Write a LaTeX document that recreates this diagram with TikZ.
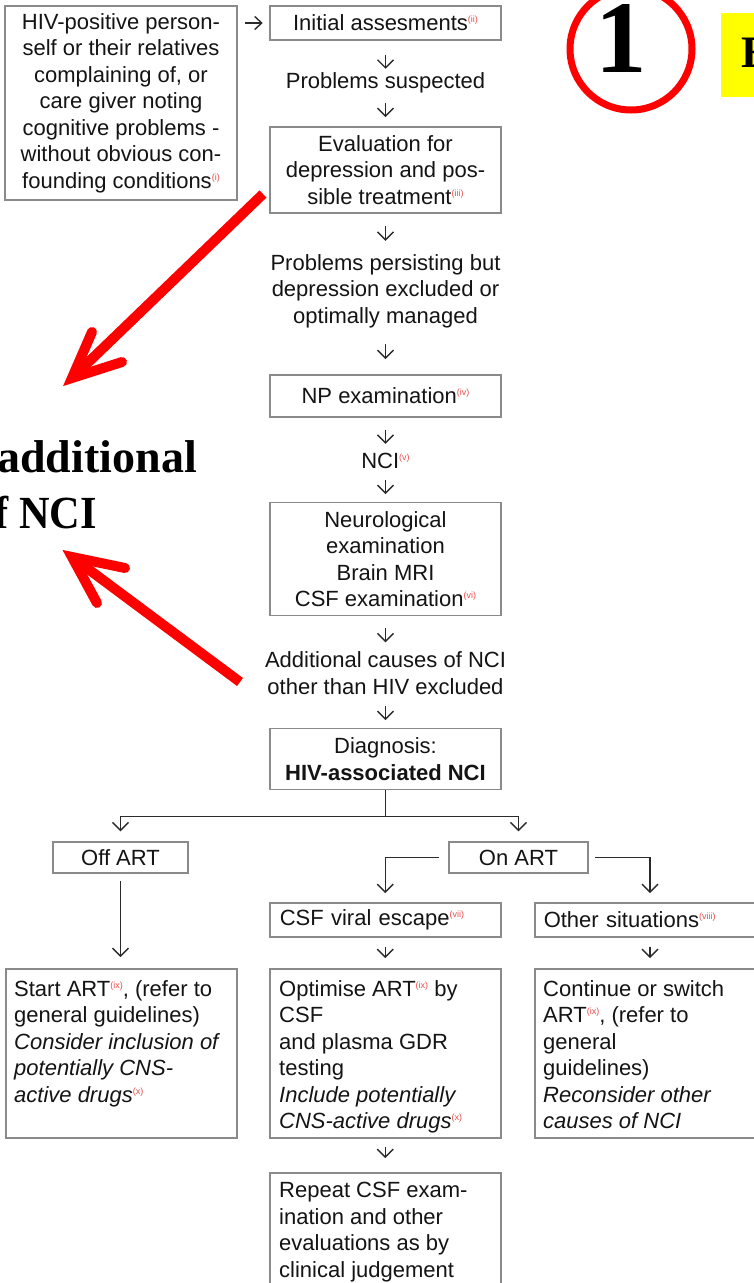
\documentclass[tikz,border=0pt]{standalone}
\usepackage{fontspec}
\setmainfont{Liberation Sans}
\newfontfamily\titleserif{Liberation Serif}
\usetikzlibrary{arrows.meta,calc}
\definecolor{boxgray}{HTML}{8A8A8A}
\definecolor{supred}{HTML}{EE4A4A}
\definecolor{txt}{HTML}{141414}
\definecolor{conn}{HTML}{2A2A2A}
\definecolor{hlyellow}{HTML}{FFFF00}
\newcommand{\fnref}[1]{\raisebox{8pt}{\fontsize{9}{9}\selectfont\color{supred}(#1)}}
\newcommand{\bodyfont}{\fontsize{22}{26.5}\selectfont}
\begin{document}
\begin{tikzpicture}[x=1pt,y=-1pt,
  frame/.style={draw=boxgray, line width=1.5pt, fill=white, inner sep=0pt},
  cbox/.style={frame, font=\bodyfont, text=txt, align=center},
  plain/.style={font=\bodyfont, text=txt, align=center, inner sep=0pt},
  ltext/.style={font=\bodyfont, text=txt, align=left, inner sep=0pt, anchor=north west},
  lbox/.style={frame, anchor=north west, font=\bodyfont, text=txt, align=left, inner xsep=10pt},
  darr/.style={draw=conn, line width=1.4pt, -{Straight Barb[length=8pt,width=16pt]}},
  link/.style={draw=conn, line width=1.4pt},
  redarrow/.style={draw=red, line width=10pt},
]
\fill[white] (0,0) rectangle (754,1283);
\useasboundingbox (0,0) rectangle (754,1283);

% annotations
\draw[red, line width=7pt] (631,49) ellipse [x radius=61, y radius=61];
\node[anchor=base, font=\titleserif\bfseries\fontsize{103}{103}\selectfont, inner sep=0pt] (one) at (621,72) {1};
\fill[hlyellow] (721,13) rectangle (770,97);
\node[anchor=base west, font=\titleserif\bfseries\fontsize{45}{50}\selectfont, inner sep=0pt] (ttl) at (741,67) {E};
\node[anchor=base east, font=\titleserif\bfseries\fontsize{46}{50}\selectfont, inner sep=0pt] (lt1) at (197,472) {additional};
\node[anchor=base east, font=\titleserif\bfseries\fontsize{46}{50}\selectfont, inner sep=0pt] (lt2) at (97,528) {\scalebox{0.92}[1]{of NCI}};

% main column
\node[cbox, minimum width=232, minimum height=194] (A) at (121,103) {HIV-positive person-\\self or their relatives\\complaining of, or\\care giver noting\\cognitive problems -\\without obvious con-\\founding conditions\fnref{i}};
\node[cbox, minimum width=231, minimum height=34] (B) at (385.5,23) {Initial assesments\fnref{ii}};
\node[plain] (ps) at (385.5,83) {Problems suspected};
\node[cbox, minimum width=231, minimum height=86] (C) at (385.5,170) {Evaluation for\\depression and pos-\\sible treatment\fnref{iii}};
\node[plain] (persist) at (385.5,291) {Problems persisting but\\depression excluded or\\optimally managed};
\node[cbox, minimum width=231, minimum height=42] (D) at (385.5,396) {NP examination\fnref{iv}};
\node[plain] (nci) at (385.5,461) {NCI\fnref{v}};
\node[cbox, minimum width=231, minimum height=113] (E) at (385.5,559) {Neurological\\examination\\Brain MRI\\CSF examination\fnref{vi}};
\node[plain] (addl) at (385.5,673) {Additional causes of NCI\\other than HIV excluded};
\node[cbox, minimum width=231, minimum height=61] (F) at (385.5,759) {Diagnosis:\\\textbf{HIV-associated NCI}};

\node[cbox, minimum width=135, minimum height=31] (off) at (120.5,857.5) {Off ART};
\node[cbox, minimum width=139, minimum height=31] (on) at (518.5,857.5) {On ART};
\node[lbox, text width=211, minimum height=34] (csf) at (269,902) {CSF viral escape\fnref{vii}};
\node[lbox, text width=282, minimum height=34, inner xsep=9pt] (oth) at (534,902) {Other situations\fnref{viii}};

\node[frame, anchor=north west, minimum width=231, minimum height=169] (s1) at (5,968) {};
\node[frame, anchor=north west, minimum width=231, minimum height=169] (s2) at (269,968) {};
\node[frame, anchor=north west, minimum width=300, minimum height=169] (s3) at (534,968) {};
\node[frame, anchor=north west, minimum width=231, minimum height=150] (s4) at (269,1172) {};

\node[ltext] (t1) at ($(s1.north west)+(9,12)$) {Start ART\fnref{ix}, (refer to\\general guidelines)\\{\itshape Consider inclusion of}\\{\itshape potentially CNS-}\\{\itshape active drugs}\fnref{x}};
\node[ltext] (t2) at ($(s2.north west)+(10,12)$) {Optimise ART\fnref{ix} by\\CSF\\and plasma GDR\\testing\\{\itshape Include potentially}\\{\itshape CNS-active drugs}\fnref{x}};
\node[ltext] (t3) at ($(s3.north west)+(9,12)$) {Continue or switch\\ART\fnref{ix}, (refer to\\general\\guidelines)\\{\itshape Reconsider other}\\{\itshape causes of NCI}};
\node[ltext] (t4) at ($(s4.north west)+(10,10)$) {Repeat CSF exam-\\ination and other\\evaluations as by\\clinical judgement};

% connectors
\draw[darr, -{Straight Barb[length=7pt,width=13pt]}] (A.east |- B.west) ++(7,0) -- ++(18,0);
\draw[darr] (B.south) ++(0,14) -- ++(0,14);
\draw[darr] (ps.center) ++(0,20) -- ++(0,14);
\draw[darr] (C.south) ++(0,12) -- ++(0,15);
\draw[darr] (persist.center) ++(0,53) -- ++(0,15);
\draw[darr] (D.south) ++(0,12) -- ++(0,14);
\draw[darr] (nci.center) ++(0,19) -- ++(0,14);
\draw[darr] (E.south) ++(0,12) -- ++(0,14);
\draw[darr] (addl.center) ++(0,33) -- ++(0,14);

\coordinate (j) at ($(F.south)+(0,26)$);
\draw[link] (F.south) -- (j);
\draw[darr, shorten >=10pt] (j) -| (off.north);
\draw[darr, shorten >=10pt] (j) -| (on.north);
\draw[darr, shorten <=9pt, shorten >=9pt] (on.west) -| (csf.north);
\draw[darr, shorten <=6pt, shorten >=9pt] (on.east) -| ([xshift=116pt]oth.north west);
\draw[darr, shorten <=7pt, shorten >=11pt] (off.south) -- (off.south |- s1.north);
\draw[darr, shorten <=9pt, shorten >=10pt] (csf.south) -- (csf.south |- s2.north);
\draw[darr, shorten <=9pt, shorten >=10pt] ([xshift=116pt]oth.south west) -- ([xshift=116pt]s3.north west);
\draw[darr, shorten <=8pt, shorten >=14pt] (s2.south) -- (s4.north);

% red arrows
\coordinate (r1s) at (263,194);
\coordinate (r1t) at (72,378);
\coordinate (r1a) at (92,332);
\coordinate (r1b) at (122,362);
\draw[redarrow, line cap=butt, shorten >=6pt] (r1s) -- (r1t);
\draw[redarrow, line cap=round, line join=miter] (r1a) -- (r1t) -- (r1b);
\coordinate (r2s) at (240,682);
\coordinate (r2t) at (72,557);
\coordinate (r2a) at (125,568);
\coordinate (r2b) at (97,603);
\draw[redarrow, line cap=butt, shorten >=6pt] (r2s) -- (r2t);
\draw[redarrow, line cap=round, line join=miter] (r2a) -- (r2t) -- (r2b);
\end{tikzpicture}
\end{document}
